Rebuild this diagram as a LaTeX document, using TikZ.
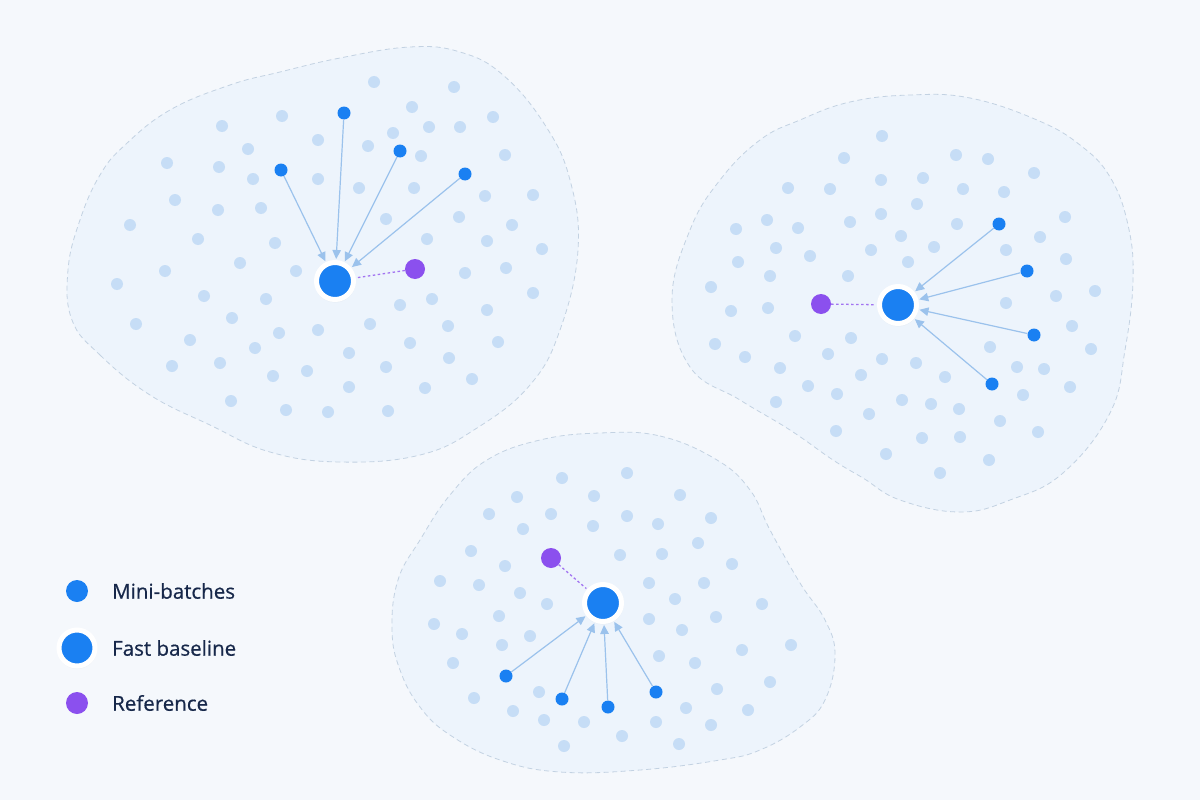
\documentclass[tikz,border=0pt]{standalone}
\usepackage{fontspec}
\usepackage{xcolor}
\newfontfamily\legendfont[FakeBold=0.6]{Open Sans}
\definecolor{pageBg}{HTML}{F5F8FC}
\definecolor{blobFill}{HTML}{EDF4FC}
\definecolor{blobLine}{HTML}{C3D2E2}
\definecolor{dotLight}{HTML}{C6DDF6}
\definecolor{batchBlue}{HTML}{1A80F2}
\definecolor{refPurple}{HTML}{8B50EE}
\definecolor{arrowBlue}{HTML}{9BC2EC}
\definecolor{textNavy}{HTML}{17284A}
\usetikzlibrary{arrows.meta, positioning, shadows, fadings}

\begin{document}
\begin{tikzpicture}[
    x=1pt, y=-1pt,
    blob/.style={fill=blobFill, draw=blobLine, dashed, dash pattern=on 5pt off 3.5pt, line width=0.8pt},
    bgdot/.style={circle, fill=dotLight, minimum size=12pt, inner sep=0pt},
    batch/.style={circle, fill=batchBlue, minimum size=13pt, inner sep=0pt},
    baseline/.style={circle, fill=batchBlue, draw=white, line width=5pt, minimum size=37pt, inner sep=0pt, outer sep=3.5pt,
        circular drop shadow={shadow xshift=0pt, shadow yshift=-1pt, shadow scale=1.12, opacity=0.10}},
    refdot/.style={circle, fill=refPurple, minimum size=20pt, inner sep=0pt},
    pull/.style={-{Triangle[length=9pt, width=8.5pt]}, line width=1.2pt, draw=arrowBlue},
    refline/.style={line width=1.3pt, draw=refPurple!80, dash pattern=on 2.5pt off 2.5pt},
    legtext/.style={anchor=west, inner sep=0pt, text=textNavy, font=\legendfont\fontsize{20.5}{24}\selectfont},
]
\fill[pageBg] (0,0) rectangle (1200,800);
\useasboundingbox (0,0) rectangle (1200,800);

% ====== BLOBS ======
\draw[blob] plot[smooth cycle, tension=0.7] coordinates {(72,320) (100,355) (150,395) (210,425) (270,452) (340,462) (420,455) (477,428) (530,385) (560,330) (578,250) (570,180) (545,125) (503,75) (460,52) (410,47) (340,58) (280,72) (230,85) (170,110) (125,145) (100,175) (80,220) (68,270)};
\draw[blob] plot[smooth cycle, tension=0.7] coordinates {(672,300) (690,230) (720,180) (760,140) (800,120) (850,102) (910,95) (970,98) (1037,120) (1080,145) (1110,177) (1128,225) (1133,280) (1125,350) (1110,413) (1063,473) (1010,500) (960,512) (900,500) (863,478) (833,460) (790,430) (740,400) (690,367)};
\draw[blob] plot[smooth cycle, tension=0.7] coordinates {(600,433) (660,436) (717,460) (750,490) (770,530) (800,583) (825,620) (835,655) (825,700) (800,727) (760,750) (720,760) (640,770) (560,772) (500,760) (450,735) (420,707) (400,670) (392,630) (398,580) (420,540) (450,495) (487,460) (540,440)};

% ====== BACKGROUND POINTS ======
\foreach \x/\y [count=\i] in {222/126,248/149,167/163,219/167,253/179,175/200,218/210,130/225,198/239,240/263,165/271,117/284,204/296,232/318,136/324,190/340,255/348,172/366,220/363,231/401,
    374/82,282/116,318/140,368/146,393/133,318/179,359/188,261/208,386/219,275/243,296/271,266/299,400/305,370/324,279/333,318/330,349/353,386/367,273/376,307/371,349/387,286/410,328/412,388/411,
    454/87,412/107,429/127,460/127,493/117,421/156,505/155,414/188,485/196,533/195,459/217,512/225,427/239,487/241,542/249,465/273,506/268,533/293,432/299,487/310,448/326,410/343,498/342,449/358,472/379,425/388}
    \node[bgdot] (p1-\i) at (\x,\y) {};
\foreach \x/\y [count=\i] in {788/188,830/189,736/229,767/220,798/228,776/248,810/256,738/262,770/276,711/287,731/311,768/308,795/336,715/344,828/354,745/357,780/368,808/386,776/402,
    882/136,844/158,956/155,881/180,923/178,963/189,917/204,881/214,850/222,957/224,901/236,934/247,871/250,908/262,848/276,851/338,882/359,916/363,861/375,945/377,837/394,902/400,931/404,959/409,869/414,836/431,922/438,960/437,886/454,940/473,
    988/159,1034/173,1004/192,1065/217,1040/237,1006/250,1066/259,1095/291,1056/296,1006/303,1072/326,1091/349,990/347,1017/367,1044/369,1070/387,1023/395,1000/421,1038/432,989/460}
    \node[bgdot] (p2-\i) at (\x,\y) {};
\foreach \x/\y [count=\i] in {562/478,517/497,594/496,489/514,551/514,523/529,593/526,471/551,505/566,440/581,479/585,520/593,547/604,499/616,434/624,462/634,530/636,502/645,453/663,539/692,474/698,513/711,544/720,584/722,564/746,
    627/473,680/495,627/516,658/524,711/518,698/543,620/555,662/554,732/564,649/583,704/583,675/599,762/604,649/619,716/617,682/630,791/645,742/650,659/656,695/663,770/682,717/689,686/708,748/710,656/722,711/725,622/736,679/744}
    \node[bgdot] (p3-\i) at (\x,\y) {};

% ====== CLUSTER 1 ======
\node[baseline] (base1) at (335,281) {};
\node[refdot] (ref1) at (415,269) {};
\node[batch] (mb1a) at (281,170) {};
\node[batch] (mb1b) at (344,113) {};
\node[batch] (mb1c) at (400,151) {};
\node[batch] (mb1d) at (465,174) {};

% ====== CLUSTER 2 ======
\node[baseline] (base2) at (898,305) {};
\node[refdot] (ref2) at (821,304) {};
\node[batch] (mb2a) at (999,224) {};
\node[batch] (mb2b) at (1027,271) {};
\node[batch] (mb2c) at (1034,335) {};
\node[batch] (mb2d) at (992,384) {};

% ====== CLUSTER 3 ======
\node[baseline] (base3) at (603,603) {};
\node[refdot] (ref3) at (551,558) {};
\node[batch] (mb3a) at (506,676) {};
\node[batch] (mb3b) at (562,699) {};
\node[batch] (mb3c) at (608,707) {};
\node[batch] (mb3d) at (656,692) {};

% --- arrows ---
\foreach \c in {1,2,3} {
    \foreach \m in {a,b,c,d}
        \draw[pull] (mb\c\m) -- (base\c);
    \draw[refline] (ref\c) -- (base\c);
}

% ====== LEGEND ======
\node[batch, minimum size=22pt] (leg_batch) at (77,591) {};
\node[baseline, minimum size=36pt] (leg_base) at (77,648) {};
\node[refdot, minimum size=22pt] (leg_ref) at (77,703) {};
\node[legtext] (lab_batch) at (112,591) {Mini-batches};
\node[legtext] (lab_base) at (112,648) {Fast baseline};
\node[legtext] (lab_ref) at (112,703) {Reference};

\end{tikzpicture}
\end{document}
